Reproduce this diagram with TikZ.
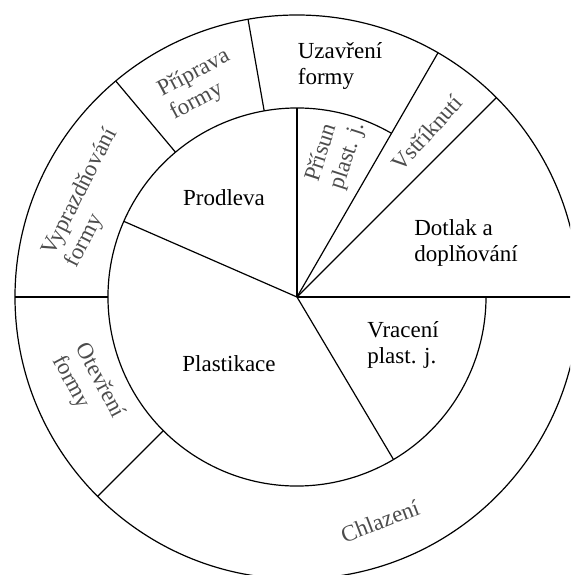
\documentclass[tikz,border=0pt]{standalone}
\usepackage{fontspec}
\setmainfont{Liberation Serif}
\begin{document}
\begin{tikzpicture}[x=1pt,y=1pt,
  rim/.style={line width=1.2pt, black},
  lab/.style={font=\fontsize{23}{26}\selectfont, inner sep=0pt, text=black},
  rlab/.style={lab, text=black!70, align=left},
  llab/.style={lab, align=left}]
\useasboundingbox (0,0) rectangle (570,-575);
\clip (0,0) rectangle (570,-575);
\begin{scope}[shift={(297,-297)}]
  \coordinate (c) at (0,0);
  % circles
  \draw[rim] (c) circle[radius=282];
  \draw[rim] (60:189) arc[start angle=60, end angle=360, radius=189];
  % spokes from centre
  \draw[rim] (c) -- (90:189);
  \draw[rim] (c) -- (156.4:189);
  \draw[rim] (c) -- (-59.3:189);
  \draw[rim] (c) -- (60:282);
  \draw[rim] (c) -- (45:282);
  \draw[rim] (c) -- (0:282);
  % outer ring separators
  \draw[rim] (100:189) -- (100:282);
  \draw[rim] (130:189) -- (130:282);
  \draw[rim] (180:189) -- (180:282);
  \draw[rim] (225:189) -- (225:282);
\end{scope}
% labels
\node[lab] (prodleva) at (224,-198) {Prodleva};
\node[lab] (plast) at (229,-364) {Plastikace};
\node[llab] (uzav) at (340,-66) {Uzavření\\formy};
\node[llab] (dotlak) at (466,-243) {Dotlak a\\doplňování};
\node[llab] (vrac) at (403,-345) {Vracení\\plast. j.};
\node[rlab, rotate=28] (prip) at (200,-85) {Příprava\\formy};
\node[rlab, rotate=63] (vypr) at (92,-198) {Vyprazdňování\\formy};
\node[rlab, rotate=-62] (otev) at (88,-387) {Otevření\\formy};
\node[rlab, rotate=21] (chlaz) at (380,-521) {Chlazení};
\node[rlab, rotate=48] (vstr) at (427,-133) {Vstříknutí};
\node[rlab, rotate=72] (pris) at (336,-152) {Přísun\\plast. j.};
\end{tikzpicture}
\end{document}
